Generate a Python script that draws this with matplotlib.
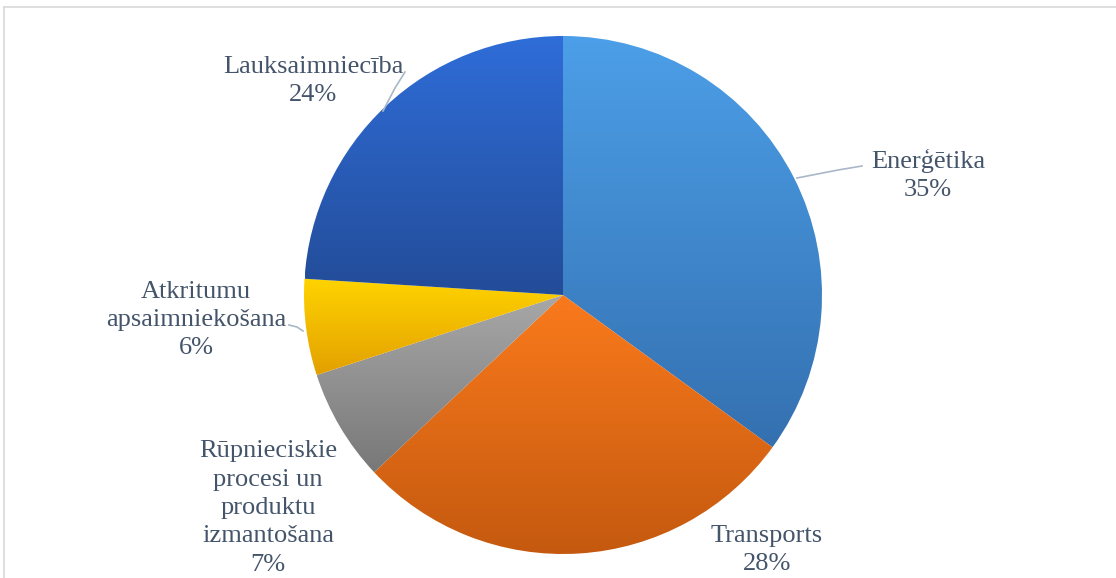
import numpy as np
import matplotlib.pyplot as plt
from matplotlib.colors import LinearSegmentedColormap
from matplotlib.lines import Line2D

# ------------------------------
# Data
# ------------------------------
labels = ["Enerģētika", "Transports",
          "Rūpnieciskie\nprocesi un\nproduktu\nizmantošana",
          "Atkritumu\napsaimniekošana", "Lauksaimniecība"]
shares = [35, 28, 7, 6, 24]

# gradient per slice: (top colour, bottom colour)
grads = [("#4C9FE8", "#3470B0"),
         ("#FA7A1C", "#C4590F"),
         ("#A8A8A8", "#787878"),
         ("#FFD400", "#E3A000"),
         ("#2F6DD8", "#234C98")]

# label anchor (pixels, y measured from top) and leader line points
label_pos = [(928, 175), (767, 550), (268, 508), (196, 320), (313, 81)]
leaders = [[(797, 178), (838, 170), (862, 166)],
           None,
           None,
           [(303, 331), (297, 327), (289, 325)],
           [(383, 111), (395, 88), (405, 72)]]

W, H = 1116, 578
CX, CY, R = 563, 295, 259
TEXT_COLOR = "#44546A"
LINE_COLOR = "#A9B7C8"

plt.rcParams['font.family'] = ['Liberation Serif', 'DejaVu Serif']

fig = plt.figure(figsize=(W / 100, H / 100), dpi=100)
ax = fig.add_axes([0, 0, 1, 1])

wedges, _ = ax.pie(shares, center=(CX, H - CY), radius=R, startangle=90,
                   counterclock=False, frame=True,
                   wedgeprops=dict(linewidth=0))

# ------------------------------
# Gradient fills clipped to each wedge
# ------------------------------
for w, (top, bot) in zip(wedges, grads):
    w.set_facecolor("none")
    verts = w.get_path().vertices
    x0, x1 = verts[:, 0].min(), verts[:, 0].max()
    y0, y1 = verts[:, 1].min(), verts[:, 1].max()
    cmap = LinearSegmentedColormap.from_list("g", [bot, top])
    grad = np.linspace(1, 0, 256).reshape(-1, 1)
    im = ax.imshow(grad, cmap=cmap, extent=[x0, x1, y0, y1], origin="upper",
                   aspect="auto", interpolation="bilinear", zorder=1)
    im.set_clip_path(w)

# ------------------------------
# Labels
# ------------------------------
for lab, share, (lx, ly), ld in zip(labels, shares, label_pos, leaders):
    ax.text(lx, H - ly, f"{lab}\n{share}%", ha="center", va="center",
            fontsize=19, color=TEXT_COLOR, linespacing=1.38, zorder=3)
    if ld:
        xs = [p[0] for p in ld]
        ys = [H - p[1] for p in ld]
        ax.plot(xs, ys, color=LINE_COLOR, lw=1.2, zorder=2)

ax.set_xlim(0, W)
ax.set_ylim(0, H)
ax.set_aspect("auto")
ax.axis("off")

# chart area border (top and left edges visible)
fig.add_artist(Line2D([4 / W, 1], [1 - 7 / H, 1 - 7 / H], color="#D9D9D9", lw=1.2))
fig.add_artist(Line2D([4 / W, 4 / W], [0, 1 - 7 / H], color="#D9D9D9", lw=1.2))

fig.savefig("out.png", dpi=100, facecolor="white")
